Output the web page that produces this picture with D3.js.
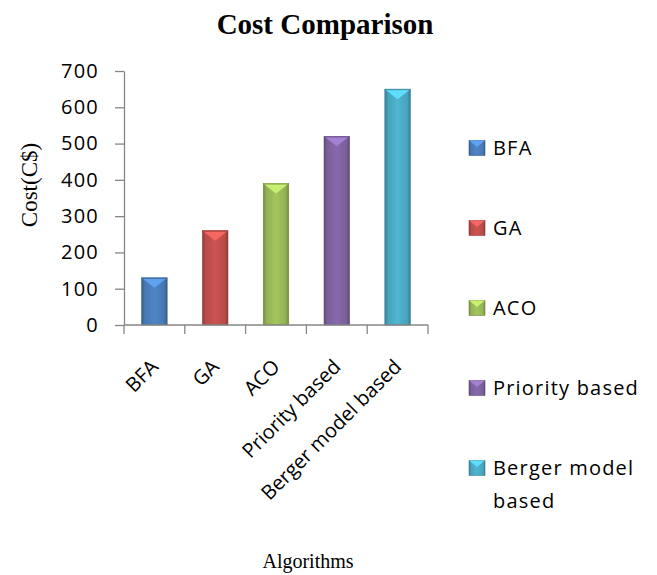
<!DOCTYPE html>
<html>
<head>
<meta charset="utf-8">
<script src="https://cdn.jsdelivr.net/npm/d3@7"></script>
<style>
  html, body { margin: 0; padding: 0; background: #fff; }
  svg { display: block; }
</style>
</head>
<body>
<svg id="chart" width="657" height="575"></svg>
<script>
// Cost per algorithm
const categories = ["BFA", "GA", "ACO", "Priority based", "Berger model based"];
const costs = [130, 260, 390, 520, 650];
const yTicks = [0, 100, 200, 300, 400, 500, 600, 700];
const legendLines = [["BFA"], ["GA"], ["ACO"], ["Priority based"], ["Berger model", "based"]];
const baseColors = ["#4a7ebb", "#c0504d", "#9bbb59", "#8064a2", "#4bacc6"];

const sansFont = "'Open Sans', Lato, sans-serif";
const serifFont = "'Liberation Serif', 'Times New Roman', serif";

const svg = d3.select("#chart");
const defs = svg.append("defs");

const plot = { left: 124, right: 428, top: 71, bottom: 325 };

const x = d3.scaleBand().domain(categories).range([plot.left, plot.right]).paddingInner(0.58).paddingOuter(0.29);
const y = d3.scaleLinear().domain([0, 700]).range([plot.bottom, plot.top]);

// Bevelled bar gradients: dark edges, lighter centre
baseColors.forEach((c, i) => {
  const base = d3.color(c);
  const g = defs.append("linearGradient").attr("id", "grad" + i)
    .attr("x1", "0%").attr("x2", "100%").attr("y1", "0%").attr("y2", "0%");
  g.append("stop").attr("offset", "0%").attr("stop-color", base.darker(0.9));
  g.append("stop").attr("offset", "12%").attr("stop-color", base.darker(0.15));
  g.append("stop").attr("offset", "50%").attr("stop-color", base.brighter(0.15));
  g.append("stop").attr("offset", "88%").attr("stop-color", base.darker(0.15));
  g.append("stop").attr("offset", "100%").attr("stop-color", base.darker(0.9));
});

// Title
svg.append("text")
  .attr("x", 325).attr("y", 34)
  .attr("text-anchor", "middle")
  .attr("font-family", serifFont)
  .attr("font-weight", "bold")
  .attr("font-size", 29)
  .text("Cost Comparison");

// Bars
const bars = svg.append("g");
categories.forEach((cat, i) => {
  const x0 = x(cat), w = x.bandwidth();
  const top = y(costs[i]), h = y(0) - y(costs[i]);
  const base = d3.color(baseColors[i]);
  const g = bars.append("g");
  g.append("rect").attr("x", x0).attr("y", top).attr("width", w).attr("height", h)
    .attr("fill", `url(#grad${i})`)
    .attr("stroke", base.darker(0.8)).attr("stroke-width", 0.6);
  // top bevel
  g.append("path")
    .attr("d", `M${x0},${top} L${x0 + w},${top} L${x0 + w / 2},${top + 10} Z`)
    .attr("fill", base.brighter(0.7));
  g.append("line").attr("x1", x0).attr("x2", x0 + w).attr("y1", top + 0.5).attr("y2", top + 0.5)
    .attr("stroke", base.darker(0.6)).attr("stroke-width", 1);
});

// Y axis
const axisColor = "#868686";
const yAxis = svg.append("g")
  .attr("transform", `translate(${plot.left},0)`)
  .call(d3.axisLeft(y).tickValues(yTicks).tickSize(9).tickPadding(16).tickSizeOuter(0));
yAxis.select(".domain").attr("stroke", axisColor).attr("stroke-width", 1.3);
yAxis.selectAll(".tick line").attr("stroke", axisColor).attr("stroke-width", 1.3);
yAxis.selectAll(".tick text")
  .attr("font-family", sansFont)
  .attr("letter-spacing", 1.2)
  .attr("font-size", 20).attr("fill", "#000");

// X axis with ticks between categories
const xAxisG = svg.append("g").attr("transform", `translate(0,${plot.bottom})`);
xAxisG.append("line").attr("x1", plot.left).attr("x2", plot.right)
  .attr("stroke", axisColor).attr("stroke-width", 1.3);
const boundaries = d3.range(categories.length + 1).map(k => plot.left + k * (plot.right - plot.left) / categories.length);
xAxisG.selectAll("line.tk").data(boundaries).enter().append("line")
  .attr("class", "tk")
  .attr("x1", d => d).attr("x2", d => d).attr("y1", 0).attr("y2", 9)
  .attr("stroke", axisColor).attr("stroke-width", 1.3);

xAxisG.selectAll("text.cat").data(categories).enter().append("text")
  .attr("class", "cat")
  .attr("transform", d => `translate(${x(d) + x.bandwidth() / 2 + 5},${43}) rotate(-45)`)
  .attr("text-anchor", "end")
  .attr("font-family", sansFont)
  .attr("font-size", 20)
  .text(d => d);

// Axis titles
svg.append("text")
  .attr("transform", "translate(37,185) rotate(-90)")
  .attr("text-anchor", "middle")
  .attr("font-family", serifFont)
  .attr("font-size", 23)
  .text("Cost(C$)");

svg.append("text")
  .attr("x", 308).attr("y", 568)
  .attr("text-anchor", "middle")
  .attr("font-family", serifFont)
  .attr("font-size", 20)
  .text("Algorithms");

// Legend
const legend = svg.append("g");
legendLines.forEach((lines, i) => {
  const cy = 148 + i * 80;
  const base = d3.color(baseColors[i]);
  const g = legend.append("g");
  g.append("rect").attr("x", 469).attr("y", cy - 7.5).attr("width", 16).attr("height", 15)
    .attr("fill", `url(#grad${i})`).attr("stroke", base.darker(0.8)).attr("stroke-width", 0.6);
  g.append("path")
    .attr("d", `M469,${cy - 7.5} L485,${cy - 7.5} L477,${cy - 1} Z`)
    .attr("fill", base.brighter(0.7));
  lines.forEach((t, j) => {
    g.append("text")
      .attr("x", 493).attr("y", cy + 7 + j * 33)
      .attr("font-family", sansFont)
      .attr("letter-spacing", 1.2)
      .attr("font-size", 20)
      .text(t);
  });
});
</script>
</body>
</html>
